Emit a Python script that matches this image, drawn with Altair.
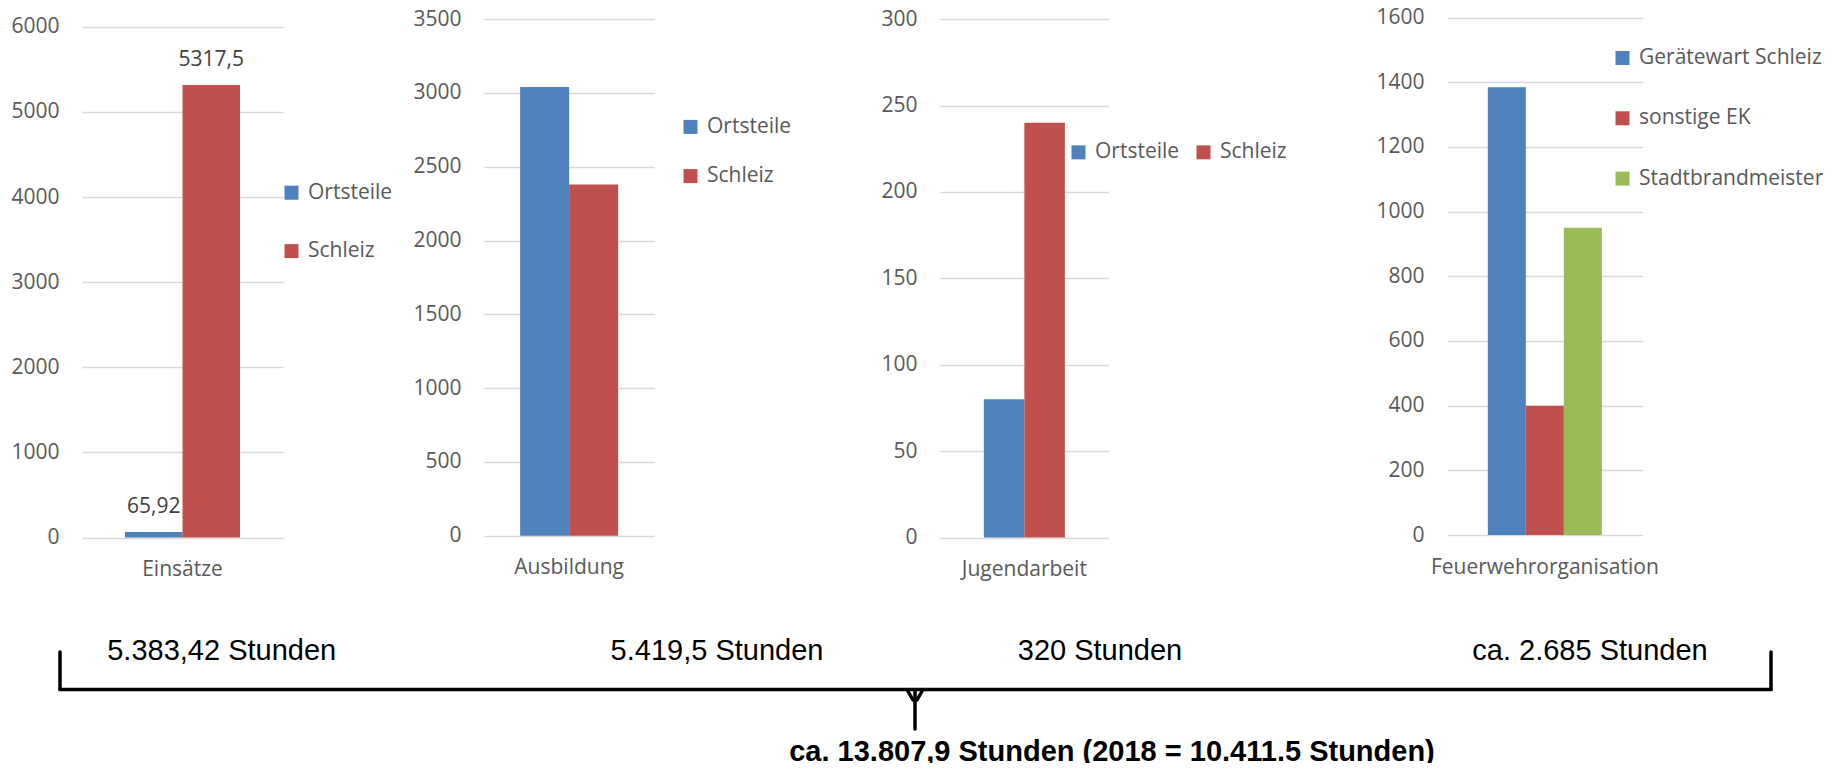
import altair as alt
import pandas as pd

# ---------------- data ----------------
CAT_1 = ["Einsätze"]
SERIES_1 = ["Ortsteile", "Schleiz"]
VALUES_1 = [65.92, 5317.5]
LABELS_1 = ["65,92", "5317,5"]
TICKS_1 = [0, 1000, 2000, 3000, 4000, 5000, 6000]

CAT_2 = ["Ausbildung"]
SERIES_2 = ["Ortsteile", "Schleiz"]
VALUES_2 = [3040, 2379.5]
TICKS_2 = [0, 500, 1000, 1500, 2000, 2500, 3000, 3500]

CAT_3 = ["Jugendarbeit"]
SERIES_3 = ["Ortsteile", "Schleiz"]
VALUES_3 = [80, 240]
TICKS_3 = [0, 50, 100, 150, 200, 250, 300]

CAT_4 = ["Feuerwehrorganisation"]
SERIES_4 = ["Gerätewart Schleiz", "sonstige EK", "Stadtbrandmeister"]
VALUES_4 = [1385, 400, 950]
TICKS_4 = [0, 200, 400, 600, 800, 1000, 1200, 1400, 1600]

TOTALS = ["5.383,42 Stunden", "5.419,5 Stunden", "320 Stunden", "ca. 2.685 Stunden"]
GRAND_TOTAL = "ca. 13.807,9 Stunden (2018 = 10.411.5 Stunden)"

COLORS = ["#4F81BD", "#C0504D", "#9BBB59"]

# ---------------- layout ----------------
TOP = 6                      # top padding, keeps the top tick labels inside the canvas
W, H = 1823, 755 - TOP
FONT = "Open Sans"
FS = 21
GREY = "#595959"


def Y(v):
    """page-layout y (relative to an origin at the page margin) -> plot y"""
    return v - TOP


def panel(cat, series, values, ticks, xrange, yrange, pad_outer, legend, labels=None):
    yrange = [Y(yrange[0]), Y(yrange[1])]
    df = pd.DataFrame({"cat": cat * len(series), "series": series, "value": values})
    if labels is not None:
        df["label"] = labels
    x = alt.X(
        "cat:N",
        scale=alt.Scale(range=xrange, paddingInner=0, paddingOuter=pad_outer),
        axis=alt.Axis(orient="bottom", offset=yrange[0] - H, title=None, domain=False,
                      ticks=False, tickSize=0, grid=False, labelPadding=21, labelAngle=0,
                      labelLimit=500, labelFont=FONT, labelFontSize=FS, labelColor=GREY),
    )
    xo = alt.XOffset("series:N", scale=alt.Scale(domain=series, paddingInner=0, paddingOuter=0))
    y = alt.Y(
        "value:Q",
        scale=alt.Scale(domain=[ticks[0], ticks[-1]], range=yrange, nice=False, zero=True),
        axis=alt.Axis(orient="left", offset=-xrange[0], title=None, values=ticks, format="d",
                      domain=False, ticks=False, tickSize=0, grid=True, gridColor="#D9D9D9",
                      gridWidth=1.5, labelPadding=23, labelFont=FONT, labelFontSize=FS,
                      labelColor=GREY),
    )
    color = alt.Color("series:N", scale=alt.Scale(domain=series, range=COLORS[:len(series)]),
                      legend=legend, sort=series)
    bars = alt.Chart(df).mark_bar().encode(x=x, xOffset=xo, y=y, color=color)
    if labels is None:
        return bars
    text = alt.Chart(df).mark_text(font=FONT, fontSize=FS, color="#404040", baseline="alphabetic",
                                   dy=-19).encode(x=x, xOffset=xo, y=y, text="label:N")
    return alt.layer(bars, text)


def legend(lx, ly, row_pad=20, direction="vertical", col_pad=20):
    return alt.Legend(orient="none", legendX=lx, legendY=Y(ly), title=None, direction=direction,
                      symbolType="square", symbolSize=196, symbolStrokeWidth=0,
                      labelFont=FONT, labelFontSize=FS, labelColor=GREY, labelOffset=6,
                      labelLimit=500, rowPadding=row_pad, columnPadding=col_pad, padding=0)


p1 = panel(CAT_1, SERIES_1, VALUES_1, TICKS_1, [74, 275], [529.6, 18.8], 0.374,
           legend(273, 174.2, row_pad=36.4), labels=LABELS_1)
p2 = panel(CAT_2, SERIES_2, VALUES_2, TICKS_2, [476, 646.3], [527.7, 11.1], 0.369,
           legend(672, 108.4, row_pad=27.2))
p3 = panel(CAT_3, SERIES_3, VALUES_3, TICKS_3, [932, 1100.7], [529.6, 11.1], 0.541,
           legend(1060, 133.6, direction="horizontal", col_pad=13))
p4 = panel(CAT_4, SERIES_4, VALUES_4, TICKS_4, [1439, 1634.7], [527, 9.6], 0.358,
           legend(1604, 39.5, row_pad=38.3))

# ---------------- annotations ----------------
TOTAL_X = [213.7, 709, 1092, 1582]
TOTAL_Y = 652
notes = []
for t, tx in zip(TOTALS, TOTAL_X):
    notes.append(
        alt.Chart(pd.DataFrame({"t": [t]})).mark_text(
            font="Liberation Sans", fontSize=29, color="black", align="center",
            baseline="alphabetic").encode(x=alt.value(tx), y=alt.value(Y(TOTAL_Y)), text="t:N"))
notes.append(
    alt.Chart(pd.DataFrame({"t": [GRAND_TOTAL]})).mark_text(
        font="Liberation Sans", fontSize=29, fontWeight="bold", color="black", align="center",
        baseline="alphabetic").encode(x=alt.value(1104), y=alt.value(Y(753)), text="t:N"))

one = pd.DataFrame({"k": [0]})
BRACE_SEGMENTS = [
    (52, 52, 644, 681.5),
    (52, 1763, 681.5, 681.5),
    (1763, 1763, 644, 681.5),
    (907, 907, 681.5, 721),
    (899, 905, 681.5, 692),
    (915, 909, 681.5, 692),
]
brace = [
    alt.Chart(one).mark_rule(color="black", strokeWidth=3.5, strokeCap="round").encode(
        x=alt.value(a), x2=alt.value(b), y=alt.value(Y(c)), y2=alt.value(Y(d)))
    for a, b, c, d in BRACE_SEGMENTS
]

chart = (
    alt.layer(p1, p2, p3, p4, *notes, *brace)
    .resolve_scale(x="independent", y="independent", color="independent", xOffset="independent")
    .properties(width=W, height=H,
                padding={"left": 0, "top": TOP, "right": 0, "bottom": 0},
                autosize=alt.AutoSizeParams(type="none"), background="white")
    .configure_view(stroke=None)
)

chart.save("out.html", embed_options={"renderer": "svg", "actions": False})
